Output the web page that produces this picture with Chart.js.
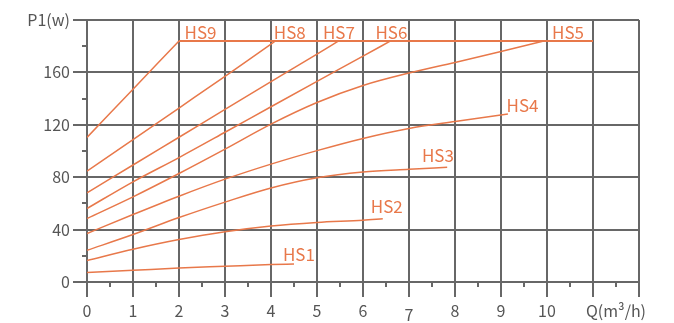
<!DOCTYPE html>
<html>
<head>
<meta charset="utf-8">
<script src="https://cdn.jsdelivr.net/npm/chart.js@4/dist/chart.umd.min.js"></script>
<style>
  html, body { margin: 0; padding: 0; background: #fff; }
  #wrap { width: 674px; height: 323px; position: relative; }
</style>
</head>
<body>
<div id="wrap"><canvas id="chart"></canvas></div>
<script>
// Power curves P1 (W) against flow Q (m3/h), speeds HS1..HS9
const seriesNames = ['HS1', 'HS2', 'HS3', 'HS4', 'HS5', 'HS6', 'HS7', 'HS8', 'HS9'];

const flowHS1 = [0, 1, 2, 3, 4, 4.5];
const powerHS1 = [7.2, 8.9, 10.7, 12, 13.3, 13.8];
const flowHS2 = [0, 1, 2, 3, 4, 5, 6, 6.43];
const powerHS2 = [16.4, 25, 32.4, 38.4, 42.8, 45.5, 47.2, 48.3];
const flowHS3 = [0, 1, 2, 3, 4, 5, 6, 7, 7.83];
const powerHS3 = [24.2, 36.2, 49.2, 61, 71.8, 79.6, 84, 86.1, 87.6];
const flowHS4 = [0, 1, 2, 3, 4, 5, 6, 7, 8, 9.15];
const powerHS4 = [37, 51.5, 65.5, 78.5, 90, 100.3, 109.6, 117.2, 122.5, 128.2];
const flowHS5 = [0, 1, 2, 3, 4, 5, 6, 7, 8, 9, 9.93];
const powerHS5 = [48.5, 65, 82.8, 101.4, 120.5, 137, 150, 159.5, 167.6, 176, 184];
const flowHS6 = [0, 1, 2, 3, 4, 5, 6, 6.6];
const powerHS6 = [56.1, 76.5, 95, 114.3, 133.8, 153.2, 172.4, 184];
const flowHS7 = [0, 1, 2, 3, 4, 5, 5.47];
const powerHS7 = [68.1, 89.3, 110.5, 131.7, 152.9, 174, 184];
const flowHS8 = [0, 1, 2, 3, 4, 4.1];
const powerHS8 = [84.6, 108.6, 132.8, 157, 181.6, 184];
const flowHS9 = [0, 1, 2];
const powerHS9 = [110.4, 147.2, 184];

// power limit line
const flowLimit = [2, 11];
const powerLimit = [184, 184];

// where each curve name sits (flow, power)
const labelFlow = [4.26, 6.17, 7.28, 9.12, 10.11, 6.27, 5.13, 4.06, 2.12];
const labelPower = [15.8, 52.3, 91.3, 129.9, 185.5, 185.5, 185.5, 185.5, 185.5];

const xTickLabels = ['0', '1', '2', '3', '4', '5', '6', '7', '8', '9', '10'];
const xAxisTitle = 'Q(m³/h)';
const yAxisTitle = 'P1(w)';

const flows = [flowHS1, flowHS2, flowHS3, flowHS4, flowHS5, flowHS6, flowHS7, flowHS8, flowHS9];
const powers = [powerHS1, powerHS2, powerHS3, powerHS4, powerHS5, powerHS6, powerHS7, powerHS8, powerHS9];

const ORANGE = '#e8784a';
const GRID = '#676767';
const TEXT = '#555555';
const FONT = "'Noto Sans CJK SC', 'Noto Sans', sans-serif";

function toPoints(xs, ys) {
  return xs.map((x, i) => ({ x: x, y: ys[i] }));
}

const datasets = seriesNames.map((name, i) => ({
  label: name,
  data: toPoints(flows[i], powers[i]),
  borderColor: ORANGE,
  borderWidth: 1.5,
  pointRadius: 0,
  cubicInterpolationMode: 'monotone',
  fill: false,
}));
datasets.push({
  label: 'limit',
  data: toPoints(flowLimit, powerLimit),
  borderColor: ORANGE,
  borderWidth: 2,
  pointRadius: 0,
  fill: false,
});

// half-step tick marks and curve names
const extrasPlugin = {
  id: 'extras',
  afterDraw(chart) {
    const ctx = chart.ctx;
    const xs = chart.scales.x;
    const ys = chart.scales.y;
    const y0 = ys.getPixelForValue(0);
    const x0 = xs.getPixelForValue(0);
    ctx.save();
    ctx.strokeStyle = GRID;
    ctx.lineWidth = 2;
    for (let v = 0.5; v < 12; v += 1) {
      const px = Math.round(xs.getPixelForValue(v));
      ctx.beginPath();
      ctx.moveTo(px, y0);
      ctx.lineTo(px, y0 + 5);
      ctx.stroke();
    }
    for (let v = 20; v < 200; v += 40) {
      const py = Math.round(ys.getPixelForValue(v));
      ctx.beginPath();
      ctx.moveTo(x0, py);
      ctx.lineTo(x0 - 5, py);
      ctx.stroke();
    }
    ctx.fillStyle = ORANGE;
    ctx.font = '17px ' + FONT;
    ctx.textAlign = 'left';
    ctx.textBaseline = 'alphabetic';
    seriesNames.forEach((name, i) => {
      ctx.fillText(name, xs.getPixelForValue(labelFlow[i]), ys.getPixelForValue(labelPower[i]));
    });
    ctx.restore();
  },
};

new Chart(document.getElementById('chart'), {
  type: 'line',
  data: { datasets: datasets },
  options: {
    responsive: true,
    maintainAspectRatio: false,
    animation: false,
    layout: { padding: { top: 20, right: 35, bottom: 0, left: 0 } },
    plugins: {
      legend: { display: false },
      tooltip: { enabled: false },
    },
    scales: {
      x: {
        type: 'linear',
        min: 0,
        max: 12,
        afterFit: (scale) => { scale.height = 41; },
        afterBuildTicks: (scale) => {
          const t = [];
          for (let v = 0; v <= 12; v += 0.5) t.push({ value: v });
          scale.ticks = t;
        },
        ticks: {
          autoSkip: false,
          maxRotation: 0,
          padding: 4,
          color: TEXT,
          font: (c) => ({
            family: FONT,
            size: 16,
            lineHeight: c.tick && c.tick.value === 7 ? 1.8 : 1.2,
          }),
          callback: (v) => {
            if (Number.isInteger(v) && v <= 10) return xTickLabels[v];
            if (v === 11.5) return xAxisTitle;
            return '';
          },
        },
        grid: {
          color: (c) => (c.tick && Number.isInteger(c.tick.value) ? GRID : 'rgba(0,0,0,0)'),
          lineWidth: 2,
          tickLength: 15,
        },
        border: { color: GRID, width: 2 },
      },
      y: {
        type: 'linear',
        min: 0,
        max: 200,
        afterFit: (scale) => { scale.width = 87; },
        ticks: {
          stepSize: 20,
          padding: 3,
          color: TEXT,
          font: { family: FONT, size: 16 },
          callback: (v) => {
            if (v === 200) return yAxisTitle;
            if (v % 40 === 0) return String(v);
            return '';
          },
        },
        grid: {
          color: (c) => (c.tick && (c.tick.value % 40 === 0 || c.tick.value === 200) ? GRID : 'rgba(0,0,0,0)'),
          lineWidth: 2,
          tickLength: 14,
        },
        border: { color: GRID, width: 2 },
      },
    },
  },
  plugins: [extrasPlugin],
});
</script>
</body>
</html>
